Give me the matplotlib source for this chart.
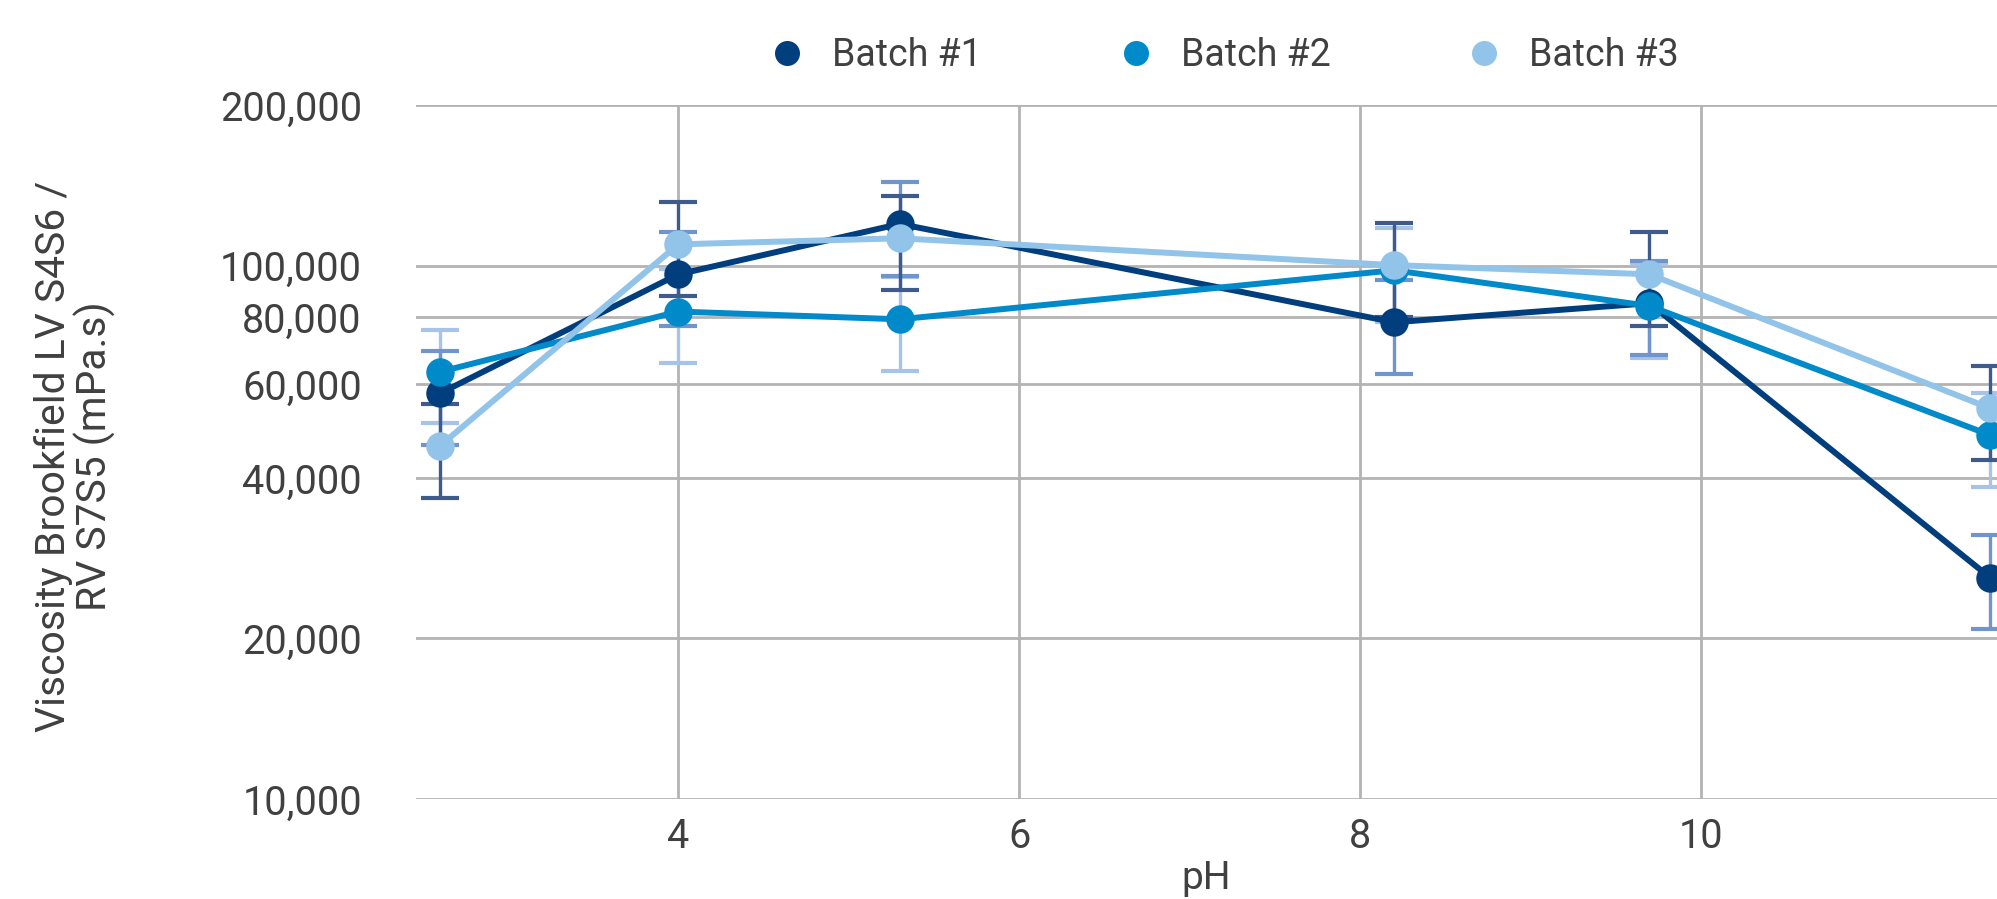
import matplotlib.pyplot as plt
import matplotlib.ticker as mticker
from matplotlib.lines import Line2D

plt.rcParams['font.family'] = ['Roboto', 'DejaVu Sans']

ph = [2.6, 4.0, 5.3, 8.2, 9.7, 11.7]
batch1 = [57600, 96300, 119700, 78300, 85000, 26000]
batch2 = [63200, 82000, 79300, 98000, 84000, 48100]
batch3 = [45900, 109600, 112500, 100200, 96300, 54000]
# error bars (about +/- 20 %)
err1 = [11500, 19300, 23900, 15700, 17000, 5200]
err2 = [12600, 16400, 15900, 19600, 16800, 9600]
err3 = [9200, 21900, 22500, 20000, 19300, 10800]

labels = ['Batch #1', 'Batch #2', 'Batch #3']
yticks = [10000, 20000, 40000, 60000, 80000, 100000, 200000]
xticks = [4, 6, 8, 10]

colors = ['#003E7E', '#008ACA', '#92C3E8']
err_colors = ['#6F95CC', '#A7C3E8', '#3F5B8C']
text_color = '#404040'

fig = plt.figure(figsize=(19.97, 8.99), dpi=100)
ax = fig.add_axes([416 / 1997, 1 - 799 / 899, 1 - 416 / 1997, (799 - 105) / 899])

series = [batch1, batch2, batch3]
errs = [err1, err2, err3]

# error bars under the lines
for s, e, ec, z in zip(series, errs, err_colors, [2.2, 2.1, 2.3]):
    ax.errorbar(ph, s, yerr=e, fmt='none', ecolor=ec, elinewidth=2.4,
                capsize=14, capthick=3, zorder=z)

for s, c, z in zip(series, colors, [3, 4, 5]):
    ax.plot(ph, s, color=c, linewidth=4.3, marker='o', markersize=20.5,
            markeredgewidth=0, zorder=z)

ax.set_yscale('log')
ax.set_ylim(10000, 200000)
ax.set_xlim(2.46, 11.74)
ax.yaxis.set_major_locator(mticker.FixedLocator(yticks))
ax.yaxis.set_minor_locator(mticker.NullLocator())
ax.yaxis.set_major_formatter(mticker.FuncFormatter(lambda v, p: f'{int(round(v)):,}'))
ax.set_xticks(xticks)

ax.grid(True, color='#B3B3B3', linewidth=2)
ax.set_axisbelow(True)
for sp in ax.spines.values():
    sp.set_visible(False)
ax.tick_params(axis='both', length=0, labelsize=28.5, colors=text_color)
ax.tick_params(axis='y', pad=39)
ax.tick_params(axis='x', pad=13)

ax.set_xlabel('pH', fontsize=28, color=text_color, labelpad=3)
fig.text(75 / 1997, 1 - 456 / 899, 'Viscosity Brookfield LV S4S6 /\nRV S7S5 (mPa.s)',
         rotation=90, ha='center', va='center', fontsize=29.4, color=text_color,
         linespacing=1.0)

handles = [Line2D([], [], linestyle='none', marker='o', markersize=18,
                  markerfacecolor=c, markeredgewidth=0) for c in colors]
fig.legend(handles, labels, loc='center', bbox_to_anchor=(0.608, 1 - 56 / 899),
           ncol=3, frameon=False, fontsize=27, handletextpad=0.2,
           columnspacing=3.1, labelcolor=text_color)

fig.savefig('out.png', dpi=100)
